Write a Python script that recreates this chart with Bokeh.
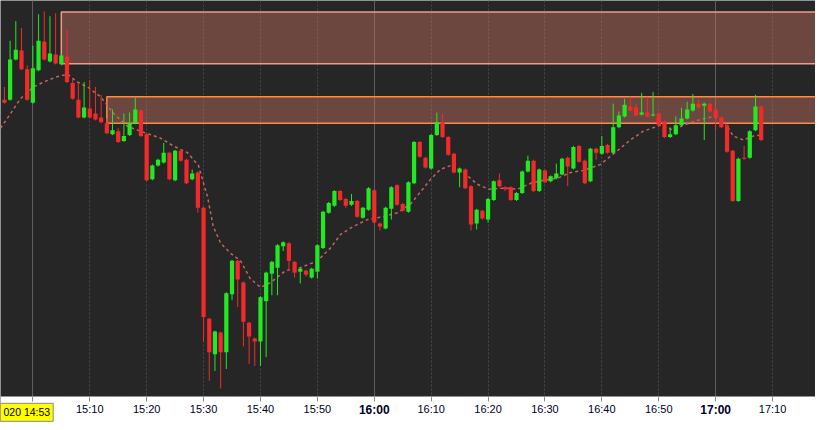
from bokeh.plotting import figure
from bokeh.models import Range1d, FixedTicker, Grid, Label, ColumnDataSource, BoxAnnotation
from bokeh.embed import file_html
from bokeh.resources import INLINE

# ---- data: 1-minute candles, minutes after 15:00 ----
minute = list(range(-6, 129))
open_ = [395, 399, 399, 440, 449, 430, 396, 429, 458, 438, 445, 435, 443, 416, 399, 381, 390, 385, 381, 375,
         364, 367, 357, 363, 375, 388, 364, 318, 332, 335, 345, 317, 347, 338, 318, 325, 289, 176, 140, 162,
         142, 201, 235, 213, 172, 156, 153, 194, 222, 228, 250, 253, 234, 224, 225, 218, 224, 248, 284, 291,
         306, 298, 292, 296, 279, 287, 307, 273, 268, 288, 312, 293, 285, 314, 356, 340, 329, 363, 376, 361,
         344, 325, 328, 311, 273, 286, 277, 297, 317, 310, 310, 297, 304, 326, 337, 306, 327, 316, 319, 323,
         340, 329, 352, 337, 316, 349, 344, 353, 345, 371, 382, 392, 391, 384, 386, 383, 385, 377, 361, 364,
         373, 380, 388, 395, 393, 395, 389, 381, 373, 347, 296, 340, 340, 368, 392]
high = [400, 412, 459, 479, 472, 434, 454, 486, 489, 484, 487, 446, 470, 420, 415, 417, 419, 412, 404, 380,
        389, 370, 385, 386, 401, 389, 365, 333, 339, 355, 346, 348, 348, 339, 328, 326, 290, 177, 164, 163,
        203, 236, 236, 214, 173, 157, 199, 224, 235, 252, 255, 254, 235, 228, 226, 228, 252, 286, 295, 307,
        307, 299, 303, 297, 290, 310, 308, 274, 290, 311, 313, 294, 316, 357, 357, 341, 364, 386, 385, 362,
        345, 330, 329, 312, 288, 287, 299, 317, 324, 311, 311, 305, 327, 342, 338, 329, 328, 322, 334, 340,
        341, 352, 353, 338, 350, 350, 362, 354, 395, 387, 400, 402, 395, 406, 402, 407, 386, 378, 371, 382,
        391, 397, 405, 399, 396, 396, 390, 382, 374, 348, 340, 352, 368, 404, 393]
low = [394, 395, 398, 439, 429, 398, 395, 428, 439, 437, 435, 434, 416, 399, 380, 380, 380, 378, 375, 364,
       363, 355, 356, 362, 374, 361, 316, 317, 331, 334, 317, 316, 336, 313, 317, 284, 153, 113, 123, 105,
       125, 195, 188, 148, 130, 128, 128, 137, 200, 200, 245, 225, 218, 212, 219, 217, 217, 247, 283, 290,
       296, 289, 291, 279, 278, 286, 273, 266, 267, 277, 291, 285, 284, 313, 340, 329, 328, 362, 360, 342,
       324, 310, 308, 266, 267, 277, 274, 296, 310, 306, 296, 296, 303, 325, 305, 305, 314, 315, 318, 322,
       311, 328, 335, 313, 315, 338, 343, 344, 344, 370, 381, 387, 382, 383, 381, 382, 372, 360, 360, 363,
       372, 379, 387, 390, 358, 386, 368, 370, 345, 295, 295, 338, 339, 367, 357]
close = [398, 396, 440, 450, 430, 399, 431, 459, 440, 446, 436, 444, 417, 400, 381, 391, 381, 379, 376, 365,
         368, 356, 362, 375, 389, 362, 317, 332, 338, 345, 318, 347, 337, 314, 324, 289, 178, 142, 163, 142,
         202, 235, 216, 173, 158, 153, 198, 223, 234, 251, 254, 235, 223, 227, 221, 227, 251, 285, 294, 306,
         297, 291, 296, 280, 289, 309, 274, 270, 289, 310, 292, 286, 315, 356, 341, 330, 363, 376, 361, 343,
         325, 329, 309, 272, 287, 278, 298, 316, 311, 308, 297, 304, 326, 337, 306, 328, 315, 321, 324, 339,
         331, 351, 336, 314, 349, 345, 352, 345, 371, 383, 394, 388, 383, 386, 382, 384, 373, 361, 364, 373,
         380, 389, 395, 391, 395, 387, 381, 371, 346, 296, 339, 339, 367, 392, 358]

# moving average (dashed)
ma_minute = [-5.7, -3.9, -2.2, 0.1, 1.9, 4.0, 6.1, 7.8, 9.6, 11.9, 14.2, 16.6, 18.9, 22.4, 24.7, 27.2, 29.1,
             30.7, 31.7, 33.0, 34.7, 36.5, 38.2, 40.0, 41.8, 44.4, 47.0, 50.0, 52.3, 54.1, 56.3, 58.8, 61.6,
             64.1, 66.4, 68.1, 69.9, 71.6, 73.4, 75.7, 78.1, 80.1, 82.7, 85.2, 87.5, 89.7, 92.2, 94.5, 96.8,
             99.7, 102.7, 105.0, 107.3, 110.3, 112.6, 114.3, 116.8, 119.6, 121.4, 123.1, 124.9, 126.6, 127.9]
ma_value = [370, 385, 400, 412, 417, 422, 425, 417, 412, 402, 385, 372, 367, 360, 352, 345, 332,
            300, 270, 253, 243, 235, 217, 208, 213, 225, 228, 235, 248, 262, 270, 277, 280,
            284, 293, 305, 318, 328, 332, 325, 313, 308, 309, 308, 314, 317, 319, 325, 327,
            333, 347, 358, 367, 373, 368, 373, 378, 382, 378, 362, 358, 362, 363]

# supply/resistance zones
zone_start = [5.0, 13.0]
zone_top = [488.3, 402.0]
zone_bottom = [435.7, 375.0]
zone_edge = ["#f29a88", "#ff8a48"]

# x-axis ticks
tick_minutes = [0, 10, 20, 30, 40, 50, 60, 70, 80, 90, 100, 110, 120, 130]
tick_labels = ["15:00", "15:10", "15:20", "15:30", "15:40", "15:50", "16:00",
               "16:10", "16:20", "16:30", "16:40", "16:50", "17:00", "17:10"]
hour_ticks = [0, 60, 120]
cursor_label = "020 14:53"

UP = "#22ea22"
DOWN = "#f42a2a"
FONT = "Liberation Sans"
AXIS_AT = 97        # price level where the time axis sits (bottom of the price pane)
Y_MIN, Y_MAX = 70.5, 500

colors = [UP if c >= o else DOWN for o, c in zip(open_, close)]
src = ColumnDataSource(dict(
    x=minute,
    top=[max(o, c) for o, c in zip(open_, close)],
    bottom=[min(o, c) for o, c in zip(open_, close)],
    high=high, low=low, color=colors,
))

p = figure(width=815, height=422, x_range=Range1d(-5.69, 137.55), y_range=Range1d(Y_MIN, Y_MAX),
           output_backend="svg", toolbar_location=None, y_axis_location=None,
           min_border_left=0, min_border_right=0, min_border_top=0, min_border_bottom=0,
           background_fill_color="#262626", border_fill_color="white", outline_line_color=None)

# grids
p.ygrid.visible = False
p.xgrid.ticker = FixedTicker(ticks=[t for t in tick_minutes if t not in hour_ticks])
p.xgrid.grid_line_color = "#484848"
p.xgrid.grid_line_dash = "2 2"
hour_grid = Grid(dimension=0, ticker=FixedTicker(ticks=hour_ticks),
                 grid_line_color="#5e5e5e", grid_line_width=1)
p.add_layout(hour_grid)

# zones
p.quad(left=zone_start, right=[200] * len(zone_start), top=zone_top, bottom=zone_bottom,
       fill_color="#c07060", fill_alpha=0.45, line_color=zone_edge, line_width=1.5)

# moving average
p.line(ma_minute, ma_value, line_color="#c0665c", line_width=1.5, line_dash="3 3")

# candles
p.segment(x0="x", y0="low", x1="x", y1="high", line_color="color", line_width=1, source=src)
p.vbar(x="x", width=0.74, top="top", bottom="bottom", fill_color="color", line_color=None, source=src)

# white time-axis band under the price pane
p.add_layout(BoxAnnotation(top=AXIS_AT, bottom=Y_MIN, fill_color="white", fill_alpha=1.0,
                           line_color=None, level="glyph"))

# x axis, pinned at the bottom of the price pane
ax = p.xaxis[0]
ax.fixed_location = AXIS_AT
ax.ticker = FixedTicker(ticks=tick_minutes)
ax.major_label_overrides = {t: ("" if t in hour_ticks else lab) for t, lab in zip(tick_minutes, tick_labels)}
ax.axis_line_color = None
ax.major_tick_line_color = "#8c8c8c"
ax.major_tick_out = 5
ax.major_tick_in = 0
ax.minor_tick_line_color = None
ax.major_label_standoff = 2
ax.major_label_text_font = FONT
ax.major_label_text_font_size = "11px"
ax.major_label_text_color = "#000028"

# bold hour labels
for t, lab in zip(tick_minutes, tick_labels):
    if t in hour_ticks and t != 0:
        p.add_layout(Label(x=t, y=AXIS_AT - 7, text=lab, text_align="center",
                           text_baseline="top", text_font=FONT, text_font_style="bold",
                           text_font_size="12px", text_color="#000028"))

# cursor time box at the left of the axis
p.add_layout(Label(x=0, y=AXIS_AT - 7, x_units="screen", text=cursor_label,
                   text_align="left", text_baseline="top", text_font=FONT, text_font_size="10.5px",
                   text_color="#000000", background_fill_color="#ffff00",
                   border_line_color="#8a8a8a", padding=3))

open("out.html", "w").write(file_html(p, INLINE))
